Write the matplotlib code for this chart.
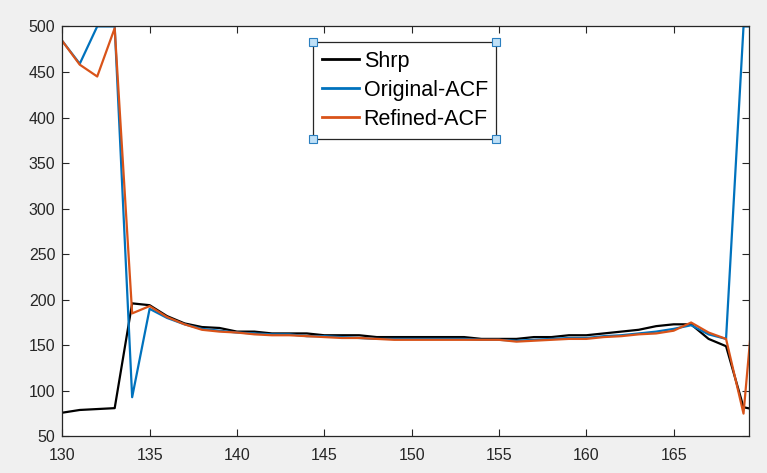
import matplotlib
matplotlib.use("Agg")
import matplotlib.pyplot as plt
from matplotlib.patches import Rectangle

# frames
x = list(range(130, 171))

shrp = [76, 79, 80, 81, 196, 194, 182, 174, 170, 169,
        165, 165, 163, 163, 163, 161, 161, 161, 159, 159,
        159, 159, 159, 159, 157, 157, 157, 159, 159, 161,
        161, 163, 165, 167, 171, 173, 173, 157, 149, 82,
        78]

original_acf = [484, 459, 500, 500, 93, 190, 180, 173, 168, 166,
                164, 163, 162, 162, 160, 160, 159, 158, 157, 157,
                157, 157, 157, 157, 156, 156, 155, 156, 157, 158,
                158, 160, 161, 163, 165, 168, 172, 162, 157, 500,
                500]

refined_acf = [484, 458, 445, 498, 185, 193, 181, 173, 167, 165,
               164, 162, 161, 161, 160, 159, 158, 158, 157, 156,
               156, 156, 156, 156, 156, 156, 154, 155, 156, 157,
               157, 159, 160, 162, 163, 166, 175, 164, 157, 75,
               290]

xticks = [130, 135, 140, 145, 150, 155, 160, 165]
yticks = [50, 100, 150, 200, 250, 300, 350, 400, 450, 500]

plt.rcParams['font.family'] = ['Liberation Sans', 'DejaVu Sans']

fig = plt.figure(figsize=(7.67, 4.73), dpi=100, facecolor="#f0f0f0")
ax = fig.add_axes([0.0812, 0.0774, 0.8957, 0.8668])

ax.plot(x, shrp, color="black", lw=1.6, label="Shrp")
ax.plot(x, original_acf, color="#0072BD", lw=1.6, label="Original-ACF")
ax.plot(x, refined_acf, color="#D95319", lw=1.6, label="Refined-ACF")

ax.set_xlim(130, 169.33)
ax.set_ylim(50, 500)
ax.set_xticks(xticks)
ax.set_yticks(yticks)
ax.tick_params(direction="in", top=True, right=True, length=5, width=0.8,
               colors="#262626", labelsize=11.5)
ax.tick_params(axis="x", pad=8)
ax.tick_params(axis="y", pad=5)
for s in ax.spines.values():
    s.set_color("#262626")
    s.set_linewidth(0.9)

leg = ax.legend(loc="upper left", bbox_to_anchor=(0.365, 0.962), borderaxespad=0,
                fontsize=15.5, frameon=True, fancybox=False, framealpha=1,
                edgecolor="#262626", handlelength=1.75, handletextpad=0.2,
                labelspacing=0.38, borderpad=0.4)
leg.get_frame().set_linewidth(0.9)
for ligne in leg.get_lines():
    ligne.set_linewidth(2)

# petites poignées de sélection aux coins de la légende
fig.canvas.draw()
bb = leg.get_window_extent().transformed(fig.transFigure.inverted())
w = 8 / 767
h = 8 / 473
for cx, cy in [(bb.x0, bb.y0), (bb.x1, bb.y0), (bb.x0, bb.y1), (bb.x1, bb.y1)]:
    fig.patches.append(Rectangle((cx - w / 2, cy - h / 2), w, h, transform=fig.transFigure,
                                 facecolor="#bfe0f7", edgecolor="#2a7fc0", lw=0.8, zorder=10))

fig.savefig("out.png", dpi=100, facecolor=fig.get_facecolor())
